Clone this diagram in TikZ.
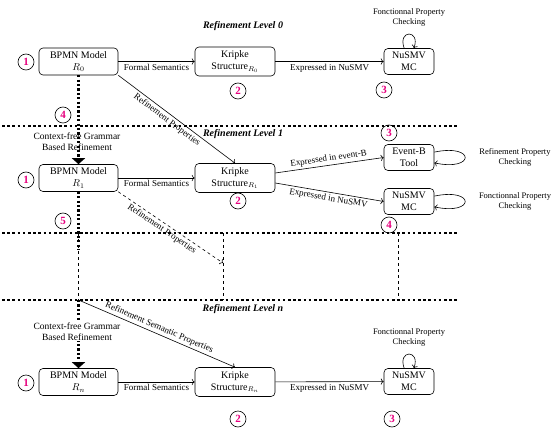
\documentclass[tikz,border=0pt]{standalone}
\usepackage{fontspec}
\setmainfont{Liberation Serif}
\usepackage{tikz}
\usetikzlibrary{arrows.meta,positioning,calc}
\definecolor{nummagenta}{HTML}{E6007E}

\begin{document}
\begin{tikzpicture}[x=1pt,y=1pt,
  box/.style={draw,line width=0.6pt,rounded corners=4pt,align=center,
              font=\fontsize{10}{12}\selectfont,inner sep=1pt},
  bpmn/.style={box,minimum width=79pt,minimum height=27pt},
  kripke/.style={box,minimum width=80pt,minimum height=29pt},
  tool/.style={box,minimum width=50pt,minimum height=26pt},
  num/.style={circle,draw,line width=0.6pt,minimum size=16pt,inner sep=0pt,
              font=\fontsize{11}{11}\selectfont\bfseries\color{nummagenta}},
  lvl/.style={font=\fontsize{10}{11}\selectfont\bfseries\itshape},
  lab/.style={font=\fontsize{9}{10}\selectfont,inner sep=2pt},
  note/.style={font=\fontsize{8.5}{10}\selectfont,align=center},
  grammar/.style={font=\fontsize{9.5}{11}\selectfont,align=center,inner sep=1pt},
  sep/.style={line width=1.6pt,dash pattern=on 2.5pt off 2.7pt},
  refine/.style={line width=2.6pt,dash pattern=on 2.2pt off 2.2pt},
  refhead/.style={-{Triangle[width=13pt,length=6pt]}},
  flow/.style={->,line width=0.6pt},
  uploop/.style={flow,loop above,min distance=20pt,in=70,out=110},
  sideloop/.style={flow,loop right,min distance=42pt,in=-12,out=12}
]
  \useasboundingbox (0,0) rectangle (553,-430);

  % separators between the levels
  \draw[sep] (2,-126) -- (457,-126);
  \draw[sep] (2,-233) -- (457,-233);
  \draw[sep] (2,-300) -- (457,-300);

  % level 0
  \node[lvl] (lv0) at (243,-26) {Refinement Level 0};
  \node[bpmn] (bp0) at (78.5,-61.5) {BPMN Model\\$R_0$};
  \node[kripke] (kr0) at (235,-61.5) {Kripke\\Structure$_{R_0}$};
  \node[tool] (mc0) at (409,-61.5) {NuSMV\\MC};
  \node[note] (fp0) at (409,-17) {Fonctionnal Property\\Checking};
  \node[num] (n01) at (26,-62) {1};
  \node[num] (n02) at (238,-91) {2};
  \node[num] (n03) at (384,-90) {3};
  \node[num] (n04) at (63,-115) {4};

  \draw[flow] (bp0) -- node[lab,below] {Formal Semantics} (kr0);
  \draw[flow] (kr0) -- node[lab,below] {Expressed in NuSMV} (mc0);
  \path (mc0) edge[uploop] (mc0);

  % level 1
  \node[lvl] (lv1) at (243,-134) {Refinement Level 1};
  \node[grammar] (gr1) at (77,-141.5) {Context-free Grammar\\Based Refinement};
  \node[bpmn] (bp1) at (78.5,-178) {BPMN Model\\$R_1$};
  \node[kripke] (kr1) at (235,-178) {Kripke\\Structure$_{R_1}$};
  \node[tool] (evb) at (409,-157.5) {Event-B\\Tool};
  \node[tool] (mc1) at (409,-201.5) {NuSMV\\MC};
  \node[note] (rp1) at (515,-157) {Refinement Property\\Checking};
  \node[note] (fp1) at (515,-201) {Fonctionnal Property\\Checking};
  \node[num] (n11) at (26,-180) {1};
  \node[num] (n12) at (238,-201) {2};
  \node[num] (n13) at (389,-133) {3};
  \node[num] (n14) at (389,-225) {4};
  \node[num] (n15) at (63,-221) {5};

  \draw[refine,refhead] (bp0) -- (bp1);
  \draw[flow] (bp0.south east) -- node[lab,below,sloped,pos=0.45] {Refinement Properties} (kr1.north);
  \draw[flow] (bp1) -- node[lab,below] {Formal Semantics} (kr1);
  \draw[flow] ([yshift=5pt]kr1.east) -- node[lab,above,sloped] {Expressed in event-B} (evb.west);
  \draw[flow] ([yshift=-5pt]kr1.east) -- node[lab,below,sloped] {Expressed in NuSMV} (mc1.west);
  \path (evb) edge[sideloop] (evb);
  \path (mc1) edge[sideloop] (mc1);

  % between level 1 and level n
  \coordinate (s1) at (78.5,-250);
  \coordinate (d1) at (223,-263);
  \draw[refine] (bp1) -- (s1);
  \draw[dashed] (78.5,-233) -- (78.5,-300);
  \draw[dashed] (223,-233) -- (223,-300);
  \draw[dashed] (398,-233) -- (398,-300);
  \draw[flow,dashed] (bp1.south east) -- node[lab,below,sloped,pos=0.45] {Refinement Properties} (d1);

  % level n
  \node[lvl] (lvn) at (243,-309) {Refinement Level n};
  \node[bpmn] (bpn) at (78.5,-382) {BPMN Model\\$R_n$};
  \node[kripke] (krn) at (235,-382) {Kripke\\Structure$_{R_n}$};
  \node[tool] (mcn) at (409,-381.5) {NuSMV\\MC};
  \node[note] (fpn) at (409,-337.5) {Fonctionnal Property\\Checking};
  \node[num] (nn1) at (26,-383) {1};
  \node[num] (nn2) at (238,-419) {2};
  \node[num] (nn3) at (392,-419) {3};

  \coordinate (sn) at (78.5,-300);
  \draw[refine,refhead] (sn) -- (bpn);
  \node[grammar,fill=white] (grn) at (77,-331.5) {Context-free Grammar\\Based Refinement};
  \draw[flow] (sn) -- node[lab,above,sloped] {Refinement Semantic Properties} (krn.north);
  \draw[flow] (bpn) -- node[lab,below] {Formal Semantics} (krn);
  \draw[flow] (krn) -- node[lab,below] {Expressed in NuSMV} (mcn);
  \path (mcn) edge[uploop] (mcn);
\end{tikzpicture}
\end{document}
